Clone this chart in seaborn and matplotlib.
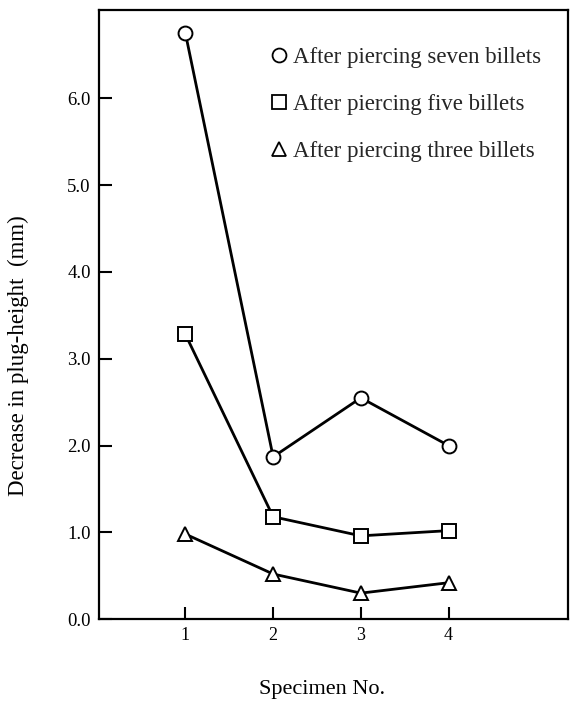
import numpy as np
import pandas as pd
import matplotlib
matplotlib.use("Agg")
import matplotlib.pyplot as plt
from matplotlib.lines import Line2D
import seaborn as sns

specimens = [1, 2, 3, 4]
seven_billets = [6.75, 1.87, 2.55, 2.00]
five_billets = [3.28, 1.18, 0.96, 1.02]
three_billets = [0.98, 0.52, 0.30, 0.42]
series_names = ["After piercing seven billets",
                "After piercing five billets",
                "After piercing three billets"]
y_ticks = [0.0, 1.0, 2.0, 3.0, 4.0, 5.0, 6.0]
y_tick_labels = ["0.0", "1.0", "2.0", "3.0", "4.0", "5.0", "6.0"]
x_ticks = [1, 2, 3, 4]

sns.set_theme(style="white")
plt.rcParams['font.family'] = ['Liberation Serif', 'DejaVu Serif']

df = pd.DataFrame({
    "Specimen": specimens * 3,
    "Value": seven_billets + five_billets + three_billets,
    "Series": [series_names[0]] * 4 + [series_names[1]] * 4 + [series_names[2]] * 4,
})

fig = plt.figure(figsize=(5.73, 7.06), dpi=100)
ax = fig.add_axes([0.173, 0.123, 0.818, 0.863])

markers = {series_names[0]: "o", series_names[1]: "s", series_names[2]: "^"}
sns.lineplot(data=df, x="Specimen", y="Value", hue="Series", style="Series",
             markers=markers, dashes=False, palette=["black"] * 3,
             linewidth=2.0, markersize=10, markerfacecolor="white",
             markeredgecolor="black", markeredgewidth=1.4, legend=False, ax=ax)

ax.set_xlim(0.016, 5.36)
ax.set_ylim(0, 7.02)
ax.set_xticks(x_ticks)
ax.set_xticklabels([str(v) for v in x_ticks], fontsize=13)
ax.set_yticks(y_ticks)
ax.set_yticklabels(y_tick_labels, fontsize=13.5)
ax.tick_params(direction="in", length=9, width=1.5, color="black", pad=6,
               bottom=True, left=True, labelcolor="black")
for sp in ax.spines.values():
    sp.set_color("black")
    sp.set_linewidth(1.6)

ax.set_xlabel("Specimen No.", fontsize=16, color="black")
ax.xaxis.set_label_coords(0.475, -0.1)
ax.set_ylabel("Decrease in plug-height  (mm)", fontsize=16.5, color="black")
ax.yaxis.set_label_coords(-0.15, 0.432)

handles = [Line2D([], [], linestyle="none", marker=markers[n], markersize=10,
                  markerfacecolor="white", markeredgecolor="black",
                  markeredgewidth=1.3) for n in series_names]
ax.legend(handles, series_names, loc="upper left", frameon=False, fontsize=16.5,
          labelspacing=1.13, handletextpad=0.2, handlelength=0.8,
          bbox_to_anchor=(0.365, 0.9395), borderaxespad=0, borderpad=0)

fig.savefig("out.png", dpi=100, facecolor="white")
